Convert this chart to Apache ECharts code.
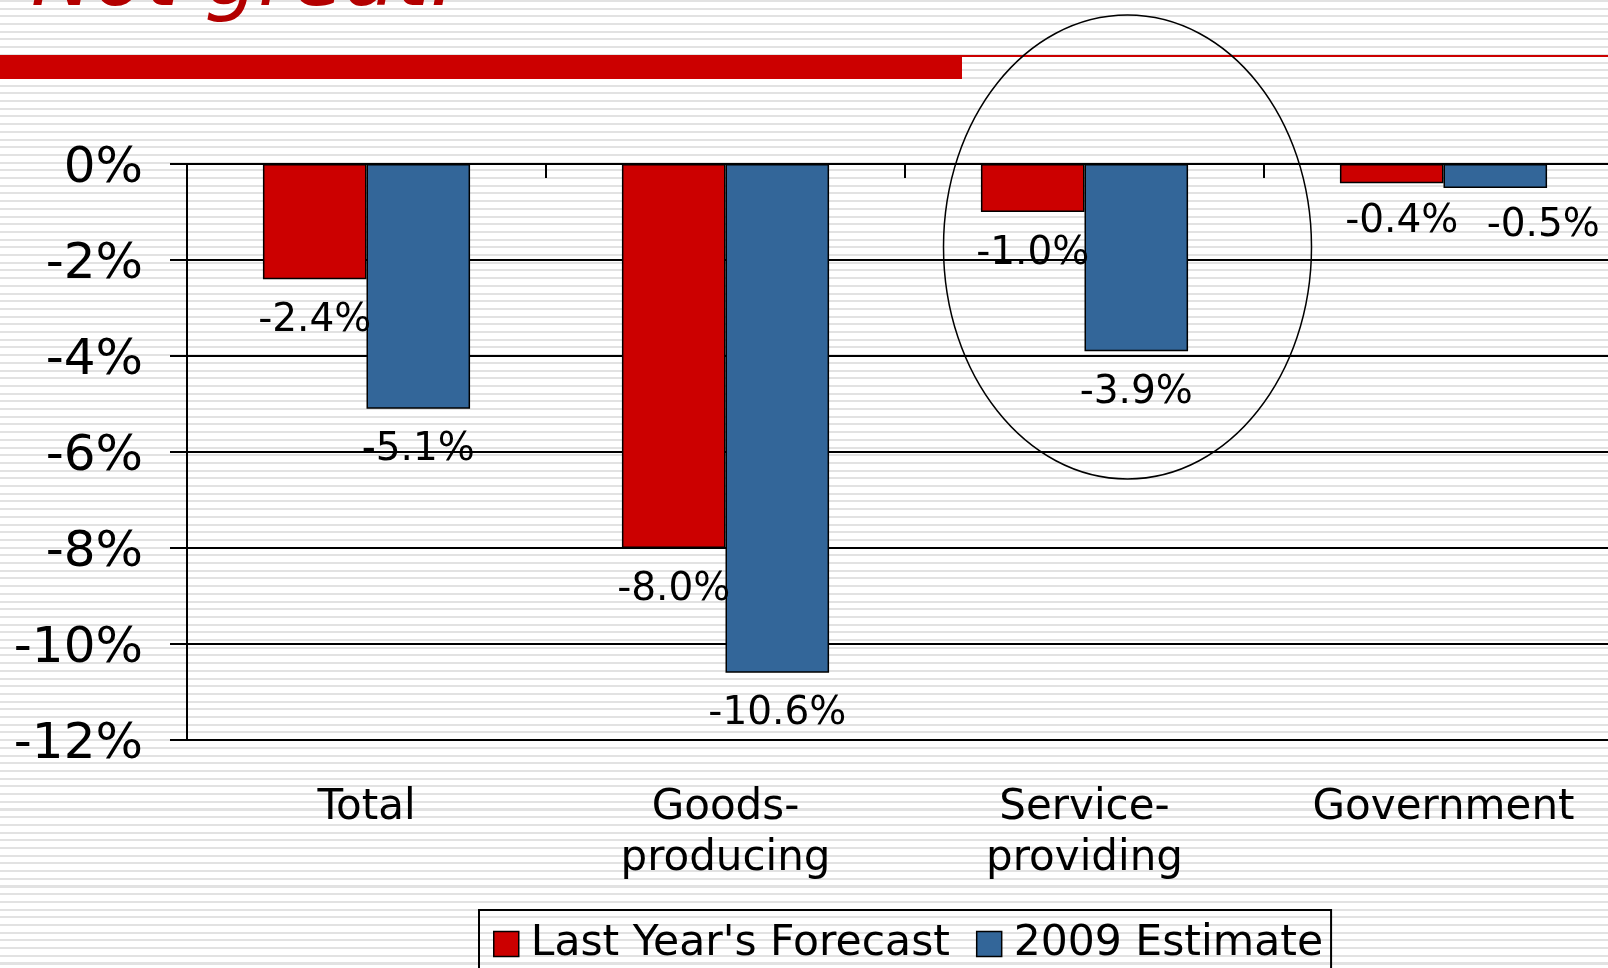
<!DOCTYPE html>
<html><head><meta charset="utf-8">
<script src="https://cdn.jsdelivr.net/npm/echarts@6/dist/echarts.min.js"></script>
<style>
html,body{margin:0;padding:0;width:1608px;height:968px;overflow:hidden;
background:repeating-linear-gradient(to bottom,#e2e2e2 0px,#e2e2e2 2px,#ffffff 2px,#ffffff 7.7px);}
#c{width:1608px;height:968px;}
</style></head><body><div id="c"></div>
<script>
const titleText = 'Not great.';
const categories = ['Total', 'Goods-\nproducing', 'Service-\nproviding', 'Government'];
const seriesNames = ["Last Year's Forecast", '2009 Estimate'];
const lastYearForecast = [-2.4, -8.0, -1.0, -0.4];
const estimate2009 = [-5.1, -10.6, -3.9, -0.5];
const yMin = -12, yMax = 0, yStep = 2;

const FONT = '"DejaVu Sans", Verdana, sans-serif';
const chart = echarts.init(document.getElementById('c'), null, {renderer: 'canvas'});

function labelNudge(seriesIdx, i) {
  // manual label nudges seen in the reference (Government group)
  if (i === 3 && seriesIdx === 0) return [10, -3];
  if (i === 3 && seriesIdx === 1) return [48, -4];
  return [0, 0];
}
function buildData(arr, sIdx) {
  return arr.map((v, i) => ({value: v, label: {offset: labelNudge(sIdx, i)}}));
}
const barLabel = {
  show: true, position: 'bottom', distance: 22,
  fontFamily: FONT, fontSize: 39, color: '#000',
  formatter: p => p.value.toFixed(1) + '%'
};

chart.setOption({
  animation: false,
  backgroundColor: 'transparent',
  textStyle: {fontFamily: FONT},
  grid: {left: 187, top: 164, width: 1436, height: 576, containLabel: false, outerBoundsMode: 'none'},
  legend: {
    data: seriesNames, left: 479, top: 910, orient: 'horizontal',
    icon: 'rect', itemWidth: 25, itemHeight: 25, itemGap: 26,
    borderColor: '#000', borderWidth: 2, padding: [12, 8, 40, 14],
    itemStyle: {borderColor: '#000', borderWidth: 1.5},
    textStyle: {fontFamily: FONT, fontSize: 42.5, color: '#000', lineHeight: 44, padding: [0, 0, 0, 7]}
  },
  xAxis: [{
    type: 'category', data: categories, position: 'bottom',
    axisLine: {show: true, onZero: false, lineStyle: {color: '#000', width: 2}},
    axisTick: {show: false},
    axisLabel: {interval: 0, fontFamily: FONT, fontSize: 42, lineHeight: 51, color: '#000', margin: 43}
  }, {
    type: 'category', data: categories, position: 'top',
    axisLine: {show: true, onZero: false, lineStyle: {color: '#000', width: 2}},
    axisTick: {show: true, inside: true, length: 14, lineStyle: {color: '#000', width: 2}},
    axisLabel: {show: false}
  }],
  yAxis: {
    type: 'value', min: yMin, max: yMax, interval: yStep,
    axisLine: {show: true, lineStyle: {color: '#000', width: 2}},
    axisTick: {show: true, length: 17, lineStyle: {color: '#000', width: 2}},
    splitLine: {show: true, lineStyle: {color: '#000', width: 2}},
    axisLabel: {
      margin: 44, color: '#000',
      formatter: v => '{a|' + v + '%}',
      rich: {a: {fontFamily: FONT, fontSize: 50, color: '#000', padding: [10, 0, 0, 0]}}
    }
  },
  series: [{
    name: seriesNames[0], type: 'bar', xAxisIndex: 0,
    data: buildData(lastYearForecast, 0),
    barGap: '0%', barCategoryGap: '42.3%',
    itemStyle: {color: '#cc0000', borderColor: '#000', borderWidth: 1.5},
    label: barLabel
  }, {
    name: seriesNames[1], type: 'bar', xAxisIndex: 0,
    data: buildData(estimate2009, 1),
    barGap: '0%', barCategoryGap: '42.3%',
    itemStyle: {color: '#336699', borderColor: '#000', borderWidth: 1.5},
    label: barLabel
  }],
  graphic: [
    {type: 'rect', shape: {x: 0, y: 55, width: 962, height: 24}, style: {fill: '#cc0000'}, silent: true},
    {type: 'rect', shape: {x: 962, y: 55, width: 646, height: 2}, style: {fill: '#cc0000'}, silent: true},
    {type: 'text', x: 31, y: -17, style: {text: titleText, font: 'italic 84px ' + FONT, fill: '#b30000', verticalAlign: 'middle', align: 'left'}, silent: true},
    {type: 'ellipse', shape: {cx: 1127.5, cy: 247, rx: 184, ry: 232}, style: {fill: 'none', stroke: '#000', lineWidth: 1.5}, z: 100, silent: true}
  ]
});
</script></body></html>
